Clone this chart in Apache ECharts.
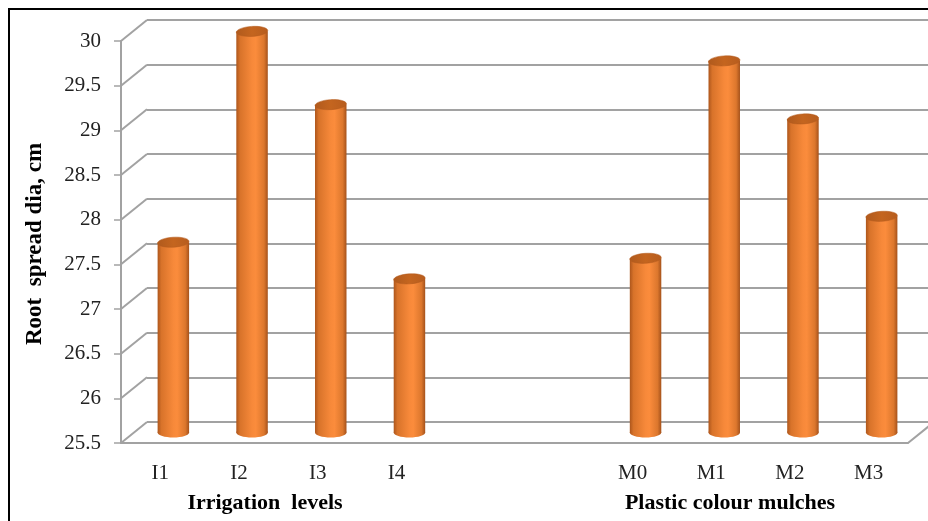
<!DOCTYPE html>
<html>
<head>
<meta charset="utf-8">
<script src="https://cdn.jsdelivr.net/npm/echarts@6/dist/echarts.min.js"></script>
<style>
  html, body { margin: 0; padding: 0; background: #fff; }
  #chart { width: 928px; height: 521px; }
</style>
</head>
<body>
<div id="chart"></div>
<script>
// Root spread diameter (cm) by irrigation level and by plastic mulch colour
const irrigationLevels = ['I1', 'I2', 'I3', 'I4'];
const irrigationSpread = [27.63, 29.99, 29.17, 27.22];
const mulchLevels = ['M0', 'M1', 'M2', 'M3'];
const mulchSpread = [27.45, 29.66, 29.01, 27.92];
const gapSlots = ['', ' '];
const yTicks = [25.5, 26, 26.5, 27, 27.5, 28, 28.5, 29, 29.5, 30];

const Y_MIN = 25.5, Y_MAX = 30, Y_STEP = 0.5;
// depth offset of the back wall relative to the front plane (pixels)
const DEPTH_X = 26, DEPTH_Y = -21;
const FONT = '"Liberation Serif", "Times New Roman", serif';
const GRID_COLOR = '#a2a2a2';

const categories = irrigationLevels.concat(gapSlots, mulchLevels);
const barData = irrigationSpread.map((v, i) => [i, v])
  .concat(mulchSpread.map((v, i) => [i + irrigationLevels.length + gapSlots.length, v]));

const bodyGradient = new echarts.graphic.LinearGradient(0, 0, 1, 0, [
  { offset: 0, color: '#ad561c' },
  { offset: 0.12, color: '#d8732a' },
  { offset: 0.5, color: '#f7893a' },
  { offset: 0.62, color: '#fb8c3c' },
  { offset: 0.88, color: '#dc772d' },
  { offset: 1, color: '#a5521b' }
]);
const topGradient = new echarts.graphic.LinearGradient(0, 0, 1, 0, [
  { offset: 0, color: '#b05a1d' },
  { offset: 0.5, color: '#c4651f' },
  { offset: 1, color: '#b75d1e' }
]);

function renderCylinder(params, api) {
  const idx = api.value(0);
  const v = api.value(1);
  const top = api.coord([idx, v]);
  const base = api.coord([idx, Y_MIN]);
  const cx = top[0] + DEPTH_X / 2;
  const ty = top[1] + DEPTH_Y / 2;
  const by = base[1] + DEPTH_Y / 2;
  const w = api.size([1, 0])[0] * 0.4;
  const rx = w / 2, ry = 5;
  return {
    type: 'group',
    children: [
      { type: 'ellipse', shape: { cx: cx, cy: by, rx: rx, ry: ry }, style: { fill: bodyGradient } },
      { type: 'rect', shape: { x: cx - rx, y: ty, width: w, height: by - ty }, style: { fill: bodyGradient } },
      {
        type: 'ellipse', shape: { cx: cx, cy: ty, rx: rx, ry: ry },
        rotation: 0.06, originX: cx, originY: ty,
        style: { fill: topGradient, stroke: '#b25b1d', lineWidth: 0.5 }
      }
    ]
  };
}

function renderWallEdges(params, api) {
  const cs = params.coordSys;
  const v = api.value(1);
  const y = api.coord([0, v])[1];
  const lineStyle = { stroke: GRID_COLOR, lineWidth: 2 };
  const children = [{
    type: 'line',
    shape: { x1: cs.x, y1: y, x2: cs.x + DEPTH_X, y2: y + DEPTH_Y },
    style: lineStyle
  }];
  if (v === Y_MIN) {
    children.push({
      type: 'line',
      shape: { x1: cs.x + cs.width, y1: y, x2: cs.x + cs.width + DEPTH_X, y2: y + DEPTH_Y },
      style: lineStyle
    });
  }
  return { type: 'group', children: children };
}

const chart = echarts.init(document.getElementById('chart'), null, { renderer: 'canvas' });

chart.setOption({
  animation: false,
  backgroundColor: '#ffffff',
  grid: [
    // back wall
    { left: 121 + DEPTH_X, top: 41 + DEPTH_Y, width: 787, height: 402 },
    // front plane
    { left: 121, top: 41, width: 787, height: 402 }
  ],
  xAxis: [
    { gridIndex: 0, type: 'category', data: categories, show: false },
    {
      gridIndex: 1, type: 'category', data: categories,
      axisLine: { show: true, lineStyle: { color: GRID_COLOR, width: 2 } },
      axisTick: { show: false },
      axisLabel: { fontFamily: FONT, fontSize: 21, color: '#222', margin: 20, interval: 0 }
    }
  ],
  yAxis: [
    {
      gridIndex: 0, type: 'value', min: Y_MIN, max: Y_MAX, interval: Y_STEP,
      axisLine: { show: false }, axisTick: { show: false }, axisLabel: { show: false },
      splitLine: { show: true, lineStyle: { color: GRID_COLOR, width: 2 } }
    },
    {
      gridIndex: 1, type: 'value', min: Y_MIN, max: Y_MAX, interval: Y_STEP,
      axisLine: { show: true, lineStyle: { color: GRID_COLOR, width: 2 } },
      axisTick: { show: true, length: 7, lineStyle: { color: GRID_COLOR, width: 1.5 } },
      axisLabel: { fontFamily: FONT, fontSize: 21, color: '#222', margin: 20 },
      splitLine: { show: false }
    }
  ],
  series: [
    {
      type: 'custom', name: 'walls', xAxisIndex: 1, yAxisIndex: 1,
      renderItem: renderWallEdges,
      data: yTicks.map(v => [0, v]),
      silent: true, z: 1
    },
    {
      type: 'custom', name: 'Root spread dia', xAxisIndex: 1, yAxisIndex: 1,
      renderItem: renderCylinder,
      data: barData,
      z: 3
    }
  ],
  graphic: [
    {
      type: 'rect', silent: true, z: 100,
      shape: { x: 9, y: 9, width: 960, height: 560 },
      style: { fill: 'none', stroke: '#000', lineWidth: 2 }
    },
    {
      type: 'text', x: 35, y: 244, rotation: Math.PI / 2,
      style: {
        text: 'Root  spread dia, cm', font: 'bold 23px ' + FONT,
        fill: '#000', align: 'center', verticalAlign: 'middle'
      }
    },
    {
      type: 'text', x: 265, y: 503,
      style: {
        text: 'Irrigation  levels', font: 'bold 22px ' + FONT,
        fill: '#000', align: 'center', verticalAlign: 'middle'
      }
    },
    {
      type: 'text', x: 730, y: 503,
      style: {
        text: 'Plastic colour mulches', font: 'bold 22px ' + FONT,
        fill: '#000', align: 'center', verticalAlign: 'middle'
      }
    }
  ]
});
</script>
</body>
</html>
